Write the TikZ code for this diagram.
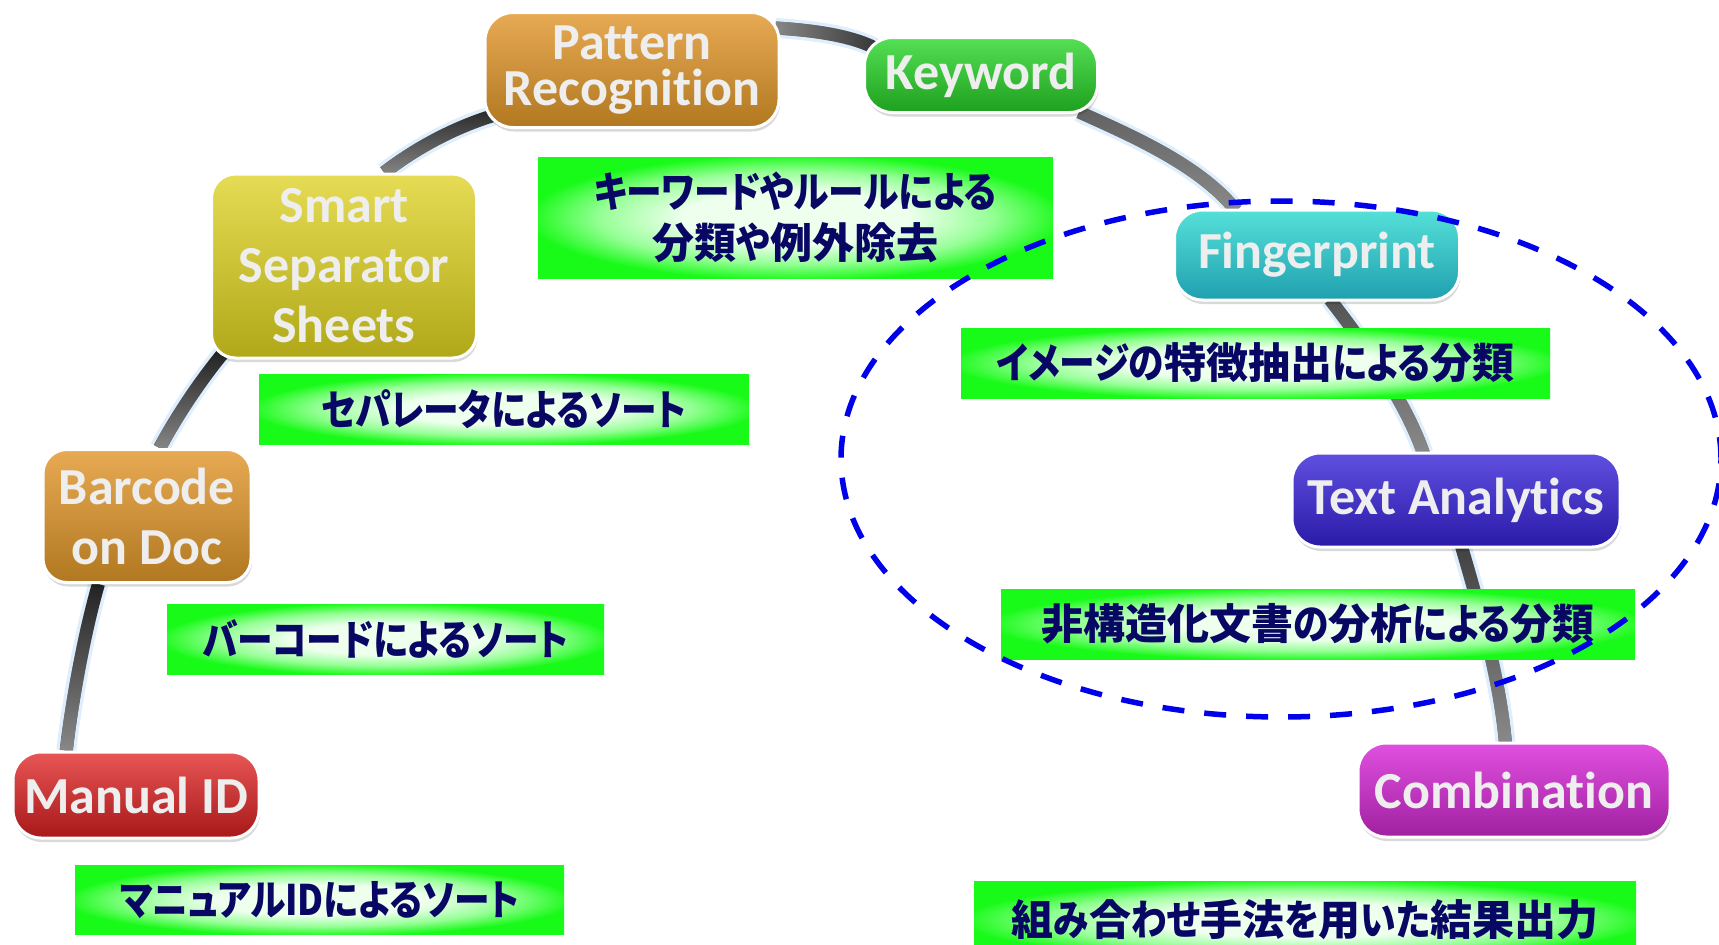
\documentclass[tikz,border=0pt]{standalone}
\usepackage{fontspec}
\usetikzlibrary{calc,shadows,fadings}
\newfontfamily\carl{Carlito}[RawFeature=-liga]
\newfontfamily\jp{Noto Sans CJK JP}[RawFeature=+palt]
\newfontfamily\jk{Noto Sans CJK JP}[RawFeature=+palt, FakeStretch=0.85]
\definecolor{bgreen}{RGB}{24,250,24}
\definecolor{wgreen}{RGB}{238,255,238}
\definecolor{mgreen}{RGB}{150,255,150}
\definecolor{navyjp}{RGB}{8,8,100}
\definecolor{boxtxt}{RGB}{238,238,238}
\definecolor{haloc}{RGB}{222,238,252}
\definecolor{ovalc}{RGB}{0,0,235}
\definecolor{orT}{RGB}{232,170,84}\definecolor{orB}{RGB}{176,120,32}
\definecolor{yeT}{RGB}{230,220,85}\definecolor{yeB}{RGB}{176,168,24}
\definecolor{rdT}{RGB}{232,86,86}\definecolor{rdB}{RGB}{168,24,24}
\definecolor{gnT}{RGB}{85,224,85}\definecolor{gnB}{RGB}{30,160,30}
\definecolor{tlT}{RGB}{85,224,216}\definecolor{tlB}{RGB}{32,160,176}
\definecolor{blT}{RGB}{96,80,224}\definecolor{blB}{RGB}{42,26,168}
\definecolor{mgT}{RGB}{224,80,224}\definecolor{mgB}{RGB}{160,32,160}
\pgfdeclareradialshading{glow}{\pgfpoint{0bp}{0bp}}{color(0bp)=(wgreen); color(11bp)=(wgreen); color(19bp)=(mgreen); color(26bp)=(bgreen); color(50bp)=(bgreen)}
\pgfdeclarelayer{background}
\pgfsetlayers{background,main}
\tikzset{
  box/.style={rounded corners=28pt, draw=white, line width=3pt, text=boxtxt,
    font=\carl\bfseries\fontsize{52}{60}\selectfont, align=center, inner sep=0pt,
    drop shadow={shadow xshift=1pt, shadow yshift=-4pt, fill=black, opacity=0.15}},
  glabel/.style={shade, shading=glow, inner sep=0pt, text=navyjp,
    font=\jp\bfseries\fontsize{42}{51}\selectfont, align=center},
  halo/.style={draw=haloc, line width=20pt},
  cdark/.style={line width=13pt},
  clight/.style={draw={rgb,255:red,140;green,140;blue,140}, line width=13pt},
  oval/.style={draw=ovalc, line width=5.5pt, dash pattern=on 22pt off 20pt}
}
\newcommand\myseg[6]{%
  \draw[halo] #1 .. controls #2 and #3 .. #4;
  \draw[cdark,draw=#6] #1 .. controls #2 and #3 .. #4;
  \draw[clight,path fading=#5] #1 .. controls #2 and #3 .. #4;}
\begin{document}
\begin{tikzpicture}[x=1pt,y=-1pt]
\useasboundingbox (0,0) rectangle (1719,945);
\clip (0,0) rectangle (1719,945);
% boxes
\node[box, top color=orT, bottom color=orB, minimum width=294pt, minimum height=115pt,
  font=\carl\bfseries\fontsize{52}{46}\selectfont] (pattern) at (632,70) {Pattern\\Recognition};
\node[box, top color=gnT, bottom color=gnB, minimum width=233pt, minimum height=75pt] (keyword) at (981,75) {Keyword};
\node[box, top color=yeT, bottom color=yeB, minimum width=265pt, minimum height=184pt, rounded corners=24pt] (smart) at (344,266) {Smart\\Separator\\Sheets};
\node[box, top color=orT, bottom color=orB, minimum width=208pt, minimum height=133pt, rounded corners=24pt] (barcode) at (147,516) {Barcode\\on Doc};
\node[box, top color=rdT, bottom color=rdB, minimum width=246pt, minimum height=86pt] (manual) at (136,795) {Manual ID};
\node[box, top color=tlT, bottom color=tlB, minimum width=285pt, minimum height=90pt] (finger) at (1317,255) {Fingerprint};
\node[box, top color=blT, bottom color=blB, minimum width=328pt, minimum height=94pt] (textan) at (1456,500) {Text Analytics};
\node[box, top color=mgT, bottom color=mgB, minimum width=312pt, minimum height=94pt] (comb) at (1514,790) {Combination};
% labels
\node[glabel, minimum width=515pt, minimum height=121pt] (l1) at (795.5,217.5) {{\jk キーワードやルールによる}\\分類{\jk や}例外除去};
\node[glabel, minimum width=490pt, minimum height=70pt] (l2) at (504,409) {\jk セパレータによるソート};
\node[glabel, minimum width=437pt, minimum height=70pt] (l3) at (385.5,639) {\jk バーコードによるソート};
\node[glabel, minimum width=489pt, minimum height=69pt] (l4) at (319.5,900) {\jk マニュアルIDによるソート};
\node[glabel, minimum width=589pt, minimum height=70pt] (l5) at (1255.5,363) {{\jk イメージの}特徴抽出{\jk による}分類};
\node[glabel, minimum width=634pt, minimum height=70pt] (l6) at (1318,624) {非構造化文書{\jk の}分析{\jk による}分類};
\node[glabel, minimum width=662pt, minimum height=78pt] (l7) at (1305,920) {組{\jk み}合{\jk わせ}手法{\jk を}用{\jk いた}結果出力};
% connectors
\begin{pgfonlayer}{background}
\myseg{($(manual.north west)!0.22!(manual.north east)$)}{(72,700)}{(85,630)}{($(barcode.south west)!0.27!(barcode.south east)$)}{north}{black!88}
\myseg{($(barcode.north west)!0.56!(barcode.north east)$)}{(180,410)}{(205,375)}{($(smart.south west)+(12,-5)$)}{north}{black!88}
\myseg{($(smart.north west)!0.65!(smart.north east)$)}{(420,145)}{(460,125)}{($(pattern.south west)+(15,-15)$)}{north}{black!85}
\myseg{($(pattern.north east)+(-5,17)$)}{(810,30)}{(850,35)}{($(keyword.north west)+(12,12)$)}{east}{black!80}
\myseg{($(keyword.south east)+(-20,-2)$)}{(1130,135)}{(1200,165)}{($(finger.north west)+(63,2)$)}{north}{black!62}
\myseg{($(finger.south west)+(157,-2)$)}{(1365,345)}{(1405,400)}{($(textan.north west)+(133,2)$)}{north}{black!68}
\myseg{($(textan.south west)+(171,-2)$)}{(1480,610)}{(1500,680)}{($(comb.north west)+(149,2)$)}{north}{black!75}
\end{pgfonlayer}
% dashed oval
\draw[oval] (1281,459) ellipse [x radius=440pt, y radius=258pt];
\end{tikzpicture}
\end{document}
